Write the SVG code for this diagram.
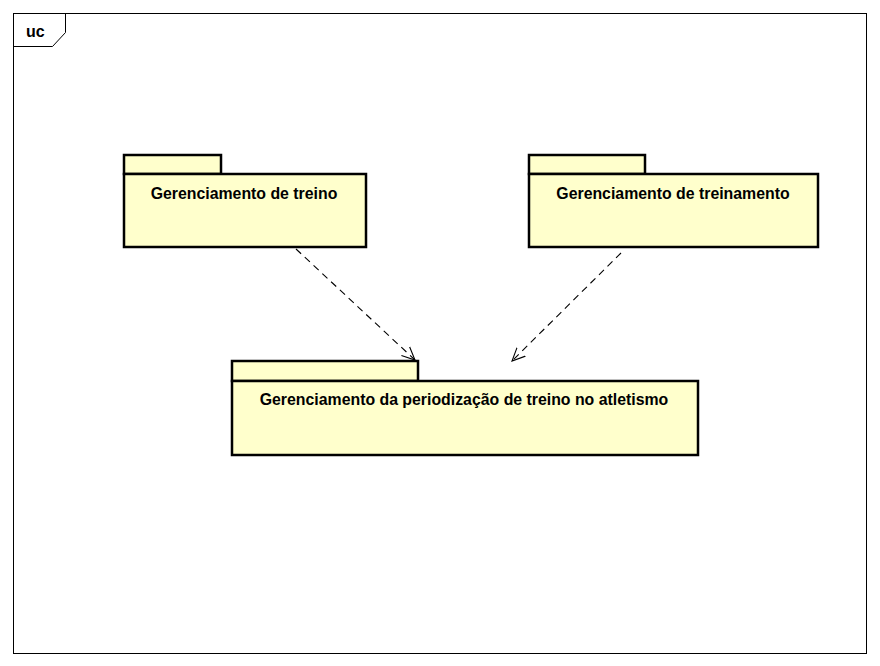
<svg xmlns="http://www.w3.org/2000/svg" width="880" height="666" viewBox="0 0 880 666">
<defs>
<style>
.frame{fill:none;stroke:#000;stroke-width:1}
.pkg{fill:#ffffcc;stroke:#000;stroke-width:2.5}
.lbl{font-family:"Liberation Sans",Arial,sans-serif;font-weight:bold;font-size:15.85px;fill:#000;text-anchor:middle}
.dep{fill:none;stroke:#000;stroke-width:1.1;stroke-dasharray:7,5}
</style>
<marker id="open" viewBox="0 0 14 14" refX="13" refY="7" markerWidth="14" markerHeight="14" markerUnits="userSpaceOnUse" orient="auto">
<path d="M0,1 L13,7 L0,13" fill="none" stroke="#000" stroke-width="1.1"/>
</marker>
</defs>
<rect width="880" height="666" fill="#fff"/>
<g id="frame">
<rect class="frame" x="13.5" y="13.5" width="853" height="640"/>
<path class="frame" d="M13.5,46.5 H52.5 L65.5,32.5 V13.5"/>
<text x="26" y="37" font-family="Liberation Sans,Arial,sans-serif" font-weight="bold" font-size="16">uc</text>
</g>
<g id="pkg1">
<rect class="pkg" x="124" y="155" width="97" height="19"/>
<rect class="pkg" x="124" y="174" width="242" height="73"/>
<text class="lbl" x="244" y="199">Gerenciamento de treino</text>
</g>
<g id="pkg2">
<rect class="pkg" x="529" y="155" width="116" height="19"/>
<rect class="pkg" x="529" y="174" width="289" height="73"/>
<text class="lbl" x="673" y="199">Gerenciamento de treinamento</text>
</g>
<g id="pkg3">
<rect class="pkg" x="232" y="361" width="186" height="20"/>
<rect class="pkg" x="232" y="381" width="466" height="74"/>
<text class="lbl" x="464" y="405">Gerenciamento da periodização de treino no atletismo</text>
</g>
<g id="connectors">
<line class="dep" x1="296" y1="249" x2="415" y2="360" marker-end="url(#open)"/>
<line class="dep" x1="621" y1="253" x2="512" y2="361" marker-end="url(#open)"/>
</g>
</svg>
